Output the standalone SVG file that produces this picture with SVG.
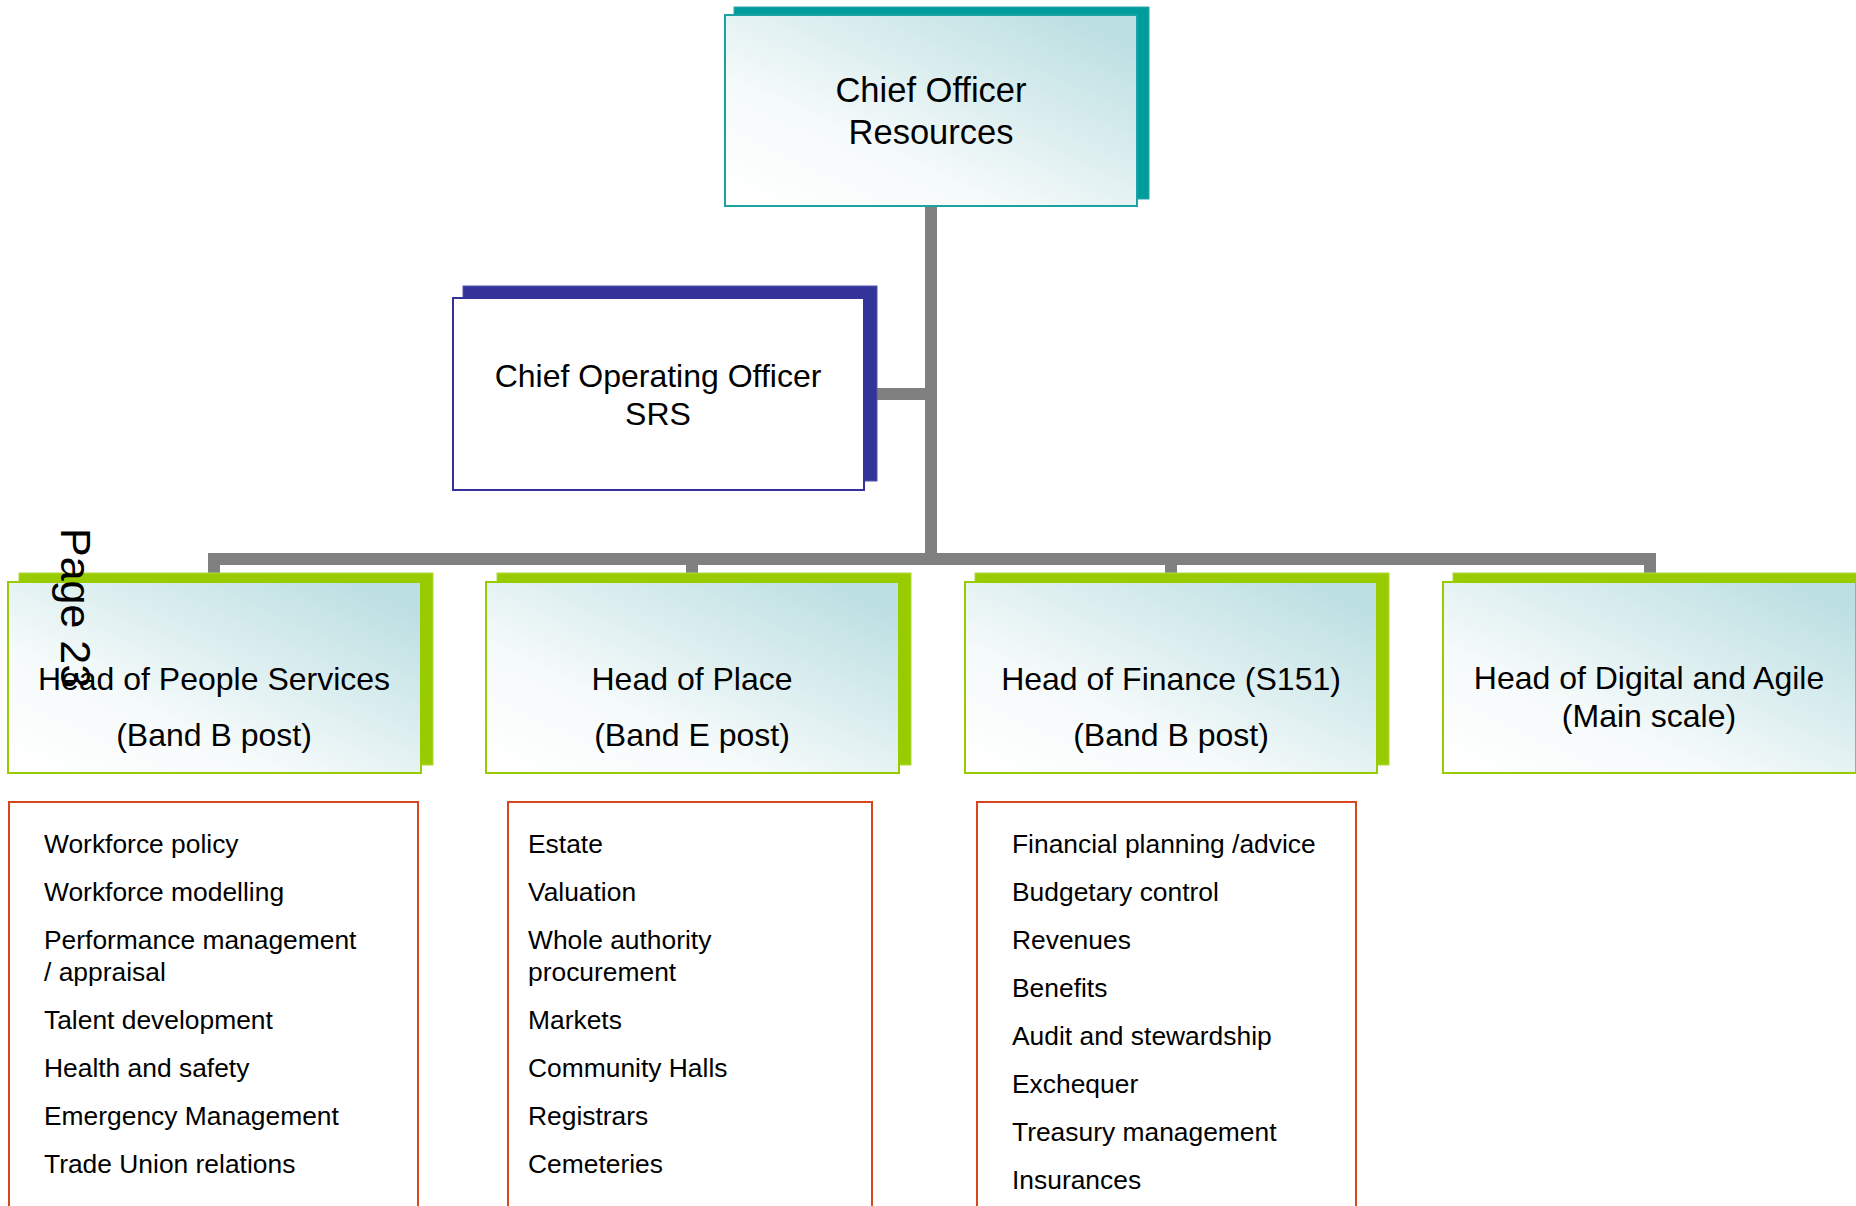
<svg xmlns="http://www.w3.org/2000/svg" width="1856" height="1206" viewBox="0 0 1856 1206">
<defs>
<linearGradient id="g" x1="0" y1="0.95" x2="0.9" y2="0.05">
<stop offset="0" stop-color="#ffffff"/>
<stop offset="0.35" stop-color="#f5fafa"/>
<stop offset="1" stop-color="#bcdfe2"/>
</linearGradient>
<style>
text{font-family:"Liberation Sans",Arial,sans-serif;fill:#000}
.t{font-size:32px;text-anchor:middle}
.tt{font-size:34.5px;text-anchor:middle}
.l{font-size:26.4px}
.sh-teal{fill:#009b9b;stroke:#2aa9a9;stroke-width:1}
.fr-teal{fill:url(#g);stroke:#1aa3a3;stroke-width:2}
.sh-navy{fill:#333399;stroke:#5555aa;stroke-width:1}
.fr-navy{fill:#fff;stroke:#333399;stroke-width:2}
.sh-green{fill:#99cc00;stroke:#b0d83a;stroke-width:1}
.fr-green{fill:url(#g);stroke:#99cc00;stroke-width:2}
.list{fill:#fff;stroke:#d8461e;stroke-width:2}
.c{fill:#808080}
</style>
</defs>
<g id="connectors">
<rect class="c" x="925" y="205" width="12" height="360"/>
<rect class="c" x="876" y="388" width="55" height="12"/>
<rect class="c" x="208" y="553" width="1448" height="12"/>
<rect class="c" x="208" y="559" width="12" height="16"/>
<rect class="c" x="686" y="559" width="12" height="16"/>
<rect class="c" x="1165" y="559" width="12" height="16"/>
<rect class="c" x="1644" y="559" width="12" height="16"/>
</g>
<g id="chief-officer">
<rect class="sh-teal" x="734" y="7" width="415" height="192"/>
<rect class="fr-teal" x="725" y="15" width="412" height="191"/>
<text class="tt" x="931" y="102">Chief Officer</text>
<text class="tt" x="931" y="144">Resources</text>
</g>
<g id="coo">
<rect class="sh-navy" x="463" y="286" width="414" height="195"/>
<rect class="fr-navy" x="453" y="298" width="411" height="192"/>
<text class="t" x="658" y="387">Chief Operating Officer</text>
<text class="t" x="658" y="425">SRS</text>
</g>
<g id="head-people">
<rect class="sh-green" x="19" y="573" width="414" height="192"/>
<rect class="fr-green" x="8" y="582" width="413" height="191"/>
<text class="t" x="214" y="690">Head of People Services</text>
<text class="t" x="214" y="746">(Band B post)</text>
</g>
<g id="head-place">
<rect class="sh-green" x="497" y="573" width="414" height="192"/>
<rect class="fr-green" x="486" y="582" width="413" height="191"/>
<text class="t" x="692" y="690">Head of Place</text>
<text class="t" x="692" y="746">(Band E post)</text>
</g>
<g id="head-finance">
<rect class="sh-green" x="975" y="573" width="414" height="192"/>
<rect class="fr-green" x="965" y="582" width="412" height="191"/>
<text class="t" x="1171" y="690">Head of Finance (S151)</text>
<text class="t" x="1171" y="746">(Band B post)</text>
</g>
<g id="head-digital">
<rect class="sh-green" x="1453" y="573" width="414" height="192"/>
<rect class="fr-green" x="1443" y="582" width="413" height="191"/>
<text class="t" x="1649" y="689">Head of Digital and Agile</text>
<text class="t" x="1649" y="727">(Main scale)</text>
</g>
<g id="list-people">
<rect class="list" x="9" y="802" width="409" height="430"/>
<text class="l" x="44" y="853">Workforce policy</text>
<text class="l" x="44" y="901">Workforce modelling</text>
<text class="l" x="44" y="949">Performance management</text>
<text class="l" x="44" y="981">/ appraisal</text>
<text class="l" x="44" y="1029">Talent development</text>
<text class="l" x="44" y="1077">Health and safety</text>
<text class="l" x="44" y="1125">Emergency Management</text>
<text class="l" x="44" y="1173">Trade Union relations</text>
</g>
<g id="list-place">
<rect class="list" x="508" y="802" width="364" height="430"/>
<text class="l" x="528" y="853">Estate</text>
<text class="l" x="528" y="901">Valuation</text>
<text class="l" x="528" y="949">Whole authority</text>
<text class="l" x="528" y="981">procurement</text>
<text class="l" x="528" y="1029">Markets</text>
<text class="l" x="528" y="1077">Community Halls</text>
<text class="l" x="528" y="1125">Registrars</text>
<text class="l" x="528" y="1173">Cemeteries</text>
</g>
<g id="list-finance">
<rect class="list" x="977" y="802" width="379" height="430"/>
<text class="l" x="1012" y="853">Financial planning /advice</text>
<text class="l" x="1012" y="901">Budgetary control</text>
<text class="l" x="1012" y="949">Revenues</text>
<text class="l" x="1012" y="997">Benefits</text>
<text class="l" x="1012" y="1045">Audit and stewardship</text>
<text class="l" x="1012" y="1093">Exchequer</text>
<text class="l" x="1012" y="1141">Treasury management</text>
<text class="l" x="1012" y="1189">Insurances</text>
</g>
<text x="61" y="528" transform="rotate(90 61 528)" style="font-size:43px">Page 23</text>
</svg>
